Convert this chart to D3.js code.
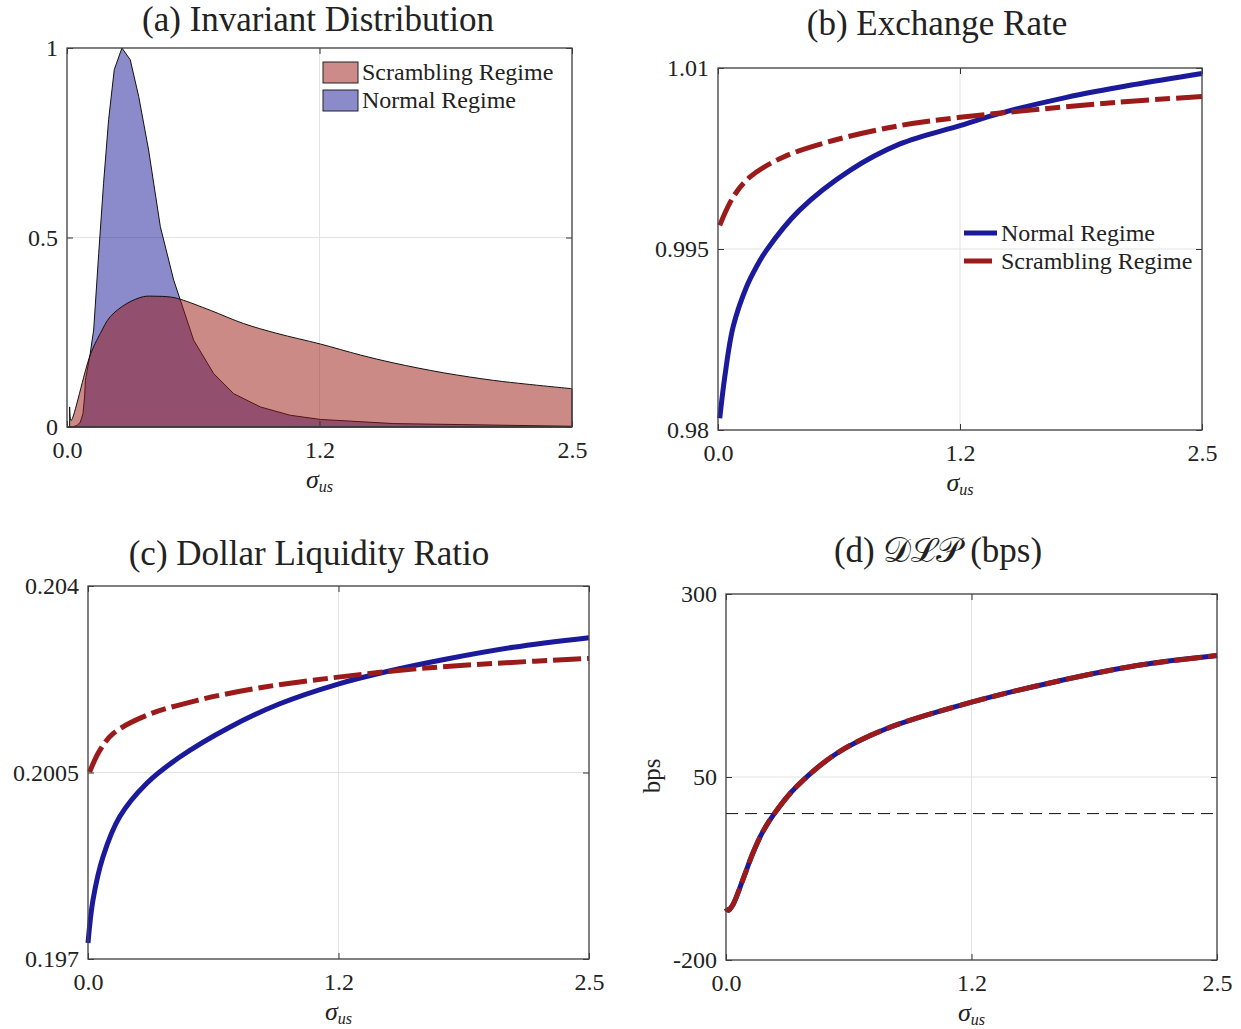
<!DOCTYPE html>
<html>
<head>
<meta charset="utf-8">
<script src="https://cdn.jsdelivr.net/npm/d3@7"></script>
<style>
  body { margin: 0; background: #fff; }
  svg text { font-family: "Liberation Serif", "Times New Roman", serif; fill: #222; }
</style>
</head>
<body>
<svg id="fig" width="1241" height="1029"></svg>
<script>
// ---- data ----
const xTicks = [0, 1.25, 2.5];
const xTickLabels = ["0.0", "1.2", "2.5"];

// (a) invariant distribution
const distNormalX = [0.0, 0.025, 0.05, 0.066, 0.079, 0.087, 0.091, 0.115, 0.132, 0.157, 0.181, 0.206, 0.234, 0.272, 0.313, 0.355, 0.404, 0.462, 0.528, 0.561, 0.627, 0.726, 0.825, 0.957, 1.105, 1.254, 1.617, 2.5];
const distNormal = [0.0, 0.0, 0.004, 0.013, 0.035, 0.079, 0.123, 0.194, 0.256, 0.458, 0.643, 0.811, 0.943, 1.0, 0.969, 0.872, 0.731, 0.529, 0.388, 0.335, 0.229, 0.141, 0.088, 0.053, 0.031, 0.020, 0.009, 0.002];
const distScramblingX = [0.013, 0.02, 0.115, 0.165, 0.214, 0.297, 0.379, 0.437, 0.511, 0.561, 0.709, 0.874, 1.039, 1.254, 1.452, 1.617, 1.864, 2.112, 2.277, 2.5];
const distScrambling = [0.053, 0.017, 0.190, 0.247, 0.291, 0.326, 0.344, 0.345, 0.343, 0.337, 0.308, 0.273, 0.247, 0.219, 0.190, 0.169, 0.143, 0.123, 0.113, 0.101];

// (b) exchange rate
const fxNormalX = [0.009, 0.035, 0.078, 0.147, 0.198, 0.25, 0.42, 0.68, 0.94, 1.25, 1.457, 1.80, 2.146, 2.5];
const fxNormal = [0.98097, 0.98441, 0.98854, 0.99185, 0.99351, 0.99489, 0.9982, 1.0015, 1.00371, 1.00523, 1.00624, 1.00757, 1.00862, 1.00955];
const fxScramblingX = [0.009, 0.078, 0.164, 0.336, 0.595, 0.94, 1.25, 1.63, 2.06, 2.5];
const fxScrambling = [0.99696, 0.9993, 1.00095, 1.00261, 1.00399, 1.00523, 1.00591, 1.00653, 1.00716, 1.00763];

// (c) dollar liquidity ratio
const dlrNormalX = [0.0, 0.025, 0.075, 0.158, 0.291, 0.458, 0.707, 0.957, 1.248, 1.498, 1.79, 2.122, 2.5];
const dlrNormal = [0.1973, 0.19811, 0.19892, 0.19967, 0.20029, 0.20079, 0.20135, 0.20179, 0.20216, 0.2024, 0.20263, 0.20285, 0.20303];
const dlrScramblingX = [0.008, 0.058, 0.125, 0.291, 0.541, 0.874, 1.248, 1.623, 2.04, 2.5];
const dlrScrambling = [0.20051, 0.20091, 0.20123, 0.20157, 0.20185, 0.2021, 0.20229, 0.20244, 0.20255, 0.20264];

// (d) DLP in bps (both regimes overlap)
const dlpX = [0.0, 0.012, 0.034, 0.085, 0.136, 0.187, 0.246, 0.357, 0.561, 0.816, 1.25, 1.666, 2.092, 2.5];
const dlpNormal = [-129, -132, -125, -90.9, -54.5, -25, 0, 36.3, 81.8, 115.9, 152.2, 179.5, 202.2, 215.9];
const dlpScrambling = [-129, -132, -125, -90.9, -54.5, -25, 0, 36.3, 81.8, 115.9, 152.2, 179.5, 202.2, 215.9];

const BLUE = "#1a1a9a";
const RED = "#9b1a1a";
const DASHDOT = "28,6,15,6";
const SERIF = '"Liberation Serif", "Times New Roman", serif';

const svg = d3.select("#fig");

// builds one axes box with frame, grid, ticks and labels
function makePanel(box, yDomain, yTicks, yTickLabels) {
  const w = box.right - box.left, h = box.bottom - box.top;
  const g = svg.append("g").attr("transform", `translate(${box.left},${box.top})`);
  const x = d3.scaleLinear().domain([0, 2.5]).range([0, w]);
  const y = d3.scaleLinear().domain(yDomain).range([h, 0]);

  // grid
  g.append("g").selectAll("line").data(xTicks).join("line")
    .attr("x1", d => x(d)).attr("x2", d => x(d)).attr("y1", 0).attr("y2", h)
    .attr("stroke", "#e3e3e3").attr("stroke-width", 1);
  g.append("g").selectAll("line").data(yTicks).join("line")
    .attr("y1", d => y(d)).attr("y2", d => y(d)).attr("x1", 0).attr("x2", w)
    .attr("stroke", "#e3e3e3").attr("stroke-width", 1);

  const plot = g.append("g");

  // axes (ticks inward, mirrored on top/right)
  const ax = [];
  ax.push(g.append("g").attr("transform", `translate(0,${h})`)
    .call(d3.axisBottom(x).tickValues(xTicks).tickSizeInner(-6).tickSizeOuter(0).tickPadding(14)
      .tickFormat((d, i) => xTickLabels[i])));
  ax.push(g.append("g")
    .call(d3.axisLeft(y).tickValues(yTicks).tickSizeInner(-6).tickSizeOuter(0).tickPadding(9)
      .tickFormat((d, i) => yTickLabels[i])));
  ax.push(g.append("g")
    .call(d3.axisTop(x).tickValues(xTicks).tickSizeInner(-6).tickSizeOuter(0).tickFormat("")));
  ax.push(g.append("g").attr("transform", `translate(${w},0)`)
    .call(d3.axisRight(y).tickValues(yTicks).tickSizeInner(-6).tickSizeOuter(0).tickFormat("")));
  ax.forEach(a => {
    a.attr("font-family", null).attr("font-size", null);
    a.select(".domain").remove();
    a.selectAll("line").attr("stroke", "#333");
    a.selectAll("text").attr("font-size", 24).attr("fill", "#222").style("font-family", SERIF);
  });

  // frame
  g.append("rect").attr("width", w).attr("height", h)
    .attr("fill", "none").attr("stroke", "#444").attr("stroke-width", 1.3);

  // sigma_us label
  const lab = g.append("text").attr("x", w / 2).attr("y", h + 61)
    .attr("text-anchor", "middle").attr("font-style", "italic");
  lab.append("tspan").attr("font-size", 26).text("σ");
  lab.append("tspan").attr("font-size", 16).attr("dy", 4).text("us");

  return { g, plot, x, y, w, h };
}

function title(cx, baseline, parts) {
  const t = svg.append("text").attr("x", cx).attr("y", baseline)
    .attr("text-anchor", "middle").attr("font-size", 35);
  parts.forEach(p => {
    const s = t.append("tspan").text(p.text);
    if (p.italic) s.attr("font-style", "italic");
  });
}

function lineSeries(p, xs, ys, color, dash) {
  const line = d3.line().x((d, i) => p.x(xs[i])).y(d => p.y(d)).curve(d3.curveCatmullRom.alpha(0.5));
  p.plot.append("path").datum(ys).attr("d", line)
    .attr("fill", "none").attr("stroke", color).attr("stroke-width", 5)
    .attr("stroke-dasharray", dash || null);
}

// ---- (a) ----
const pa = makePanel({ left: 67, top: 48, right: 572, bottom: 427 }, [0, 1], [0, 0.5, 1], ["0", "0.5", "1"]);
title(318, 31, [{ text: "(a) Invariant Distribution" }]);
const areaN = d3.area().x((d, i) => pa.x(distNormalX[i])).y0(pa.y(0)).y1(d => pa.y(d));
const areaS = d3.area().x((d, i) => pa.x(distScramblingX[i])).y0(pa.y(0)).y1(d => pa.y(d))
  .curve(d3.curveCatmullRom.alpha(0.5));
pa.plot.append("path").datum(distNormal).attr("d", areaN)
  .attr("fill", "#17179a").attr("fill-opacity", 0.5).attr("stroke", "#111").attr("stroke-width", 1);
pa.plot.append("path").datum(distScrambling).attr("d", areaS)
  .attr("fill", "#99150f").attr("fill-opacity", 0.5).attr("stroke", "#111").attr("stroke-width", 1);

const legA = svg.append("g").attr("transform", "translate(323,62)");
[["Scrambling Regime", "#cc8a88"], ["Normal Regime", "#8b8bcb"]].forEach((d, i) => {
  legA.append("rect").attr("x", 0).attr("y", i * 28).attr("width", 35).attr("height", 21)
    .attr("fill", d[1]).attr("stroke", "#222").attr("stroke-width", 1);
  legA.append("text").attr("x", 39).attr("y", i * 28 + 18).attr("font-size", 24).text(d[0]);
});

// ---- (b) ----
const pb = makePanel({ left: 718, top: 68, right: 1202, bottom: 430 }, [0.98, 1.01], [0.98, 0.995, 1.01], ["0.98", "0.995", "1.01"]);
title(937, 35, [{ text: "(b) Exchange Rate" }]);
lineSeries(pb, fxNormalX, fxNormal, BLUE);
lineSeries(pb, fxScramblingX, fxScrambling, RED, DASHDOT);

const legB = svg.append("g").attr("transform", "translate(964,233)");
[["Normal Regime", BLUE, null], ["Scrambling Regime", RED, DASHDOT]].forEach((d, i) => {
  legB.append("line").attr("x1", 0).attr("x2", 33).attr("y1", i * 28).attr("y2", i * 28)
    .attr("stroke", d[1]).attr("stroke-width", 5).attr("stroke-dasharray", d[2]);
  legB.append("text").attr("x", 37).attr("y", i * 28 + 8).attr("font-size", 24).text(d[0]);
});

// ---- (c) ----
const pc = makePanel({ left: 88, top: 586, right: 589, bottom: 959 }, [0.197, 0.204], [0.197, 0.2005, 0.204], ["0.197", "0.2005", "0.204"]);
title(309, 565, [{ text: "(c) Dollar Liquidity Ratio" }]);
lineSeries(pc, dlrNormalX, dlrNormal, BLUE);
lineSeries(pc, dlrScramblingX, dlrScrambling, RED, DASHDOT);

// ---- (d) ----
const pd = makePanel({ left: 726, top: 594, right: 1217, bottom: 960 }, [-200, 300], [-200, 50, 300], ["-200", "50", "300"]);
title(938, 562, [{ text: "(d) " }, { text: "𝒟ℒ𝒫" }, { text: " (bps)" }]);
pd.plot.append("line").attr("x1", 0).attr("x2", pd.w).attr("y1", pd.y(0)).attr("y2", pd.y(0))
  .attr("stroke", "#111").attr("stroke-width", 1).attr("stroke-dasharray", "12,7");
lineSeries(pd, dlpX, dlpNormal, BLUE);
lineSeries(pd, dlpX, dlpScrambling, RED, DASHDOT);
svg.append("text").attr("transform", `translate(660,776) rotate(-90)`)
  .attr("text-anchor", "middle").attr("font-size", 25).text("bps");
</script>
</body>
</html>
